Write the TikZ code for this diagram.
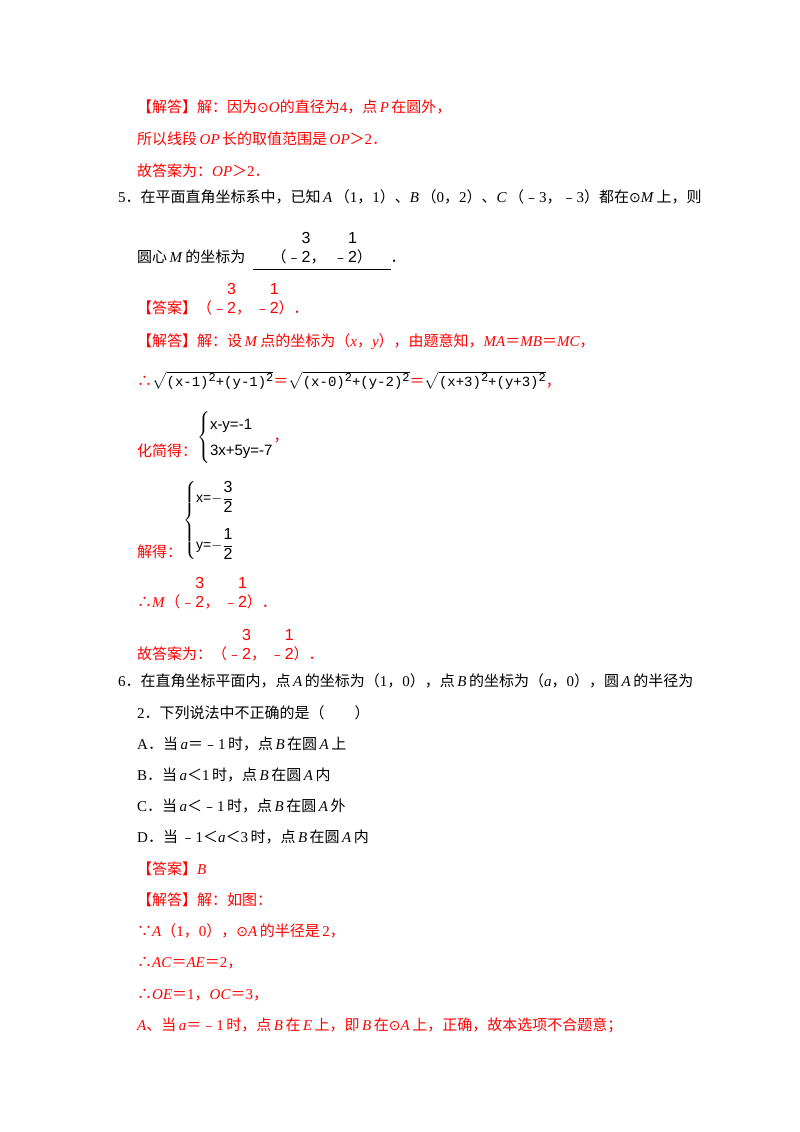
\documentclass[tikz,border=0pt]{standalone}
\usepackage{amsmath}
\usepackage{fontspec}
\setmainfont{Liberation Serif}
\newfontfamily\cjk{Noto Sans CJK SC}
\newfontfamily\djv{DejaVu Sans}
\newfontfamily\lsans{Liberation Sans}
\newfontfamily\lmono{Liberation Mono}
\definecolor{ans}{RGB}{255,0,0}
\newcommand{\zh}[1]{{\cjk #1}}
\newcommand{\mn}{{\cjk ﹣}}
\newcommand{\od}{{\djv\fontsize{14}{14}\selectfont ⊙}}
\newcommand{\fr}[2]{{\lsans\fontsize{16}{16}\selectfont\begin{tabular}[b]{@{}c@{}}#1\\[3pt]#2\end{tabular}}}
\newcommand{\sqtwo}{\raisebox{5pt}{\fontsize{12}{12}\selectfont 2}}
\newcommand{\sq}[1]{$\sqrt{\hbox{\lmono\fontsize{14}{14}\selectfont #1}}$}
\begin{document}
\begin{tikzpicture}[x=1pt,y=-1pt,
  t/.style={anchor=base west,inner sep=0pt,font=\fontsize{15}{15}\selectfont},
  r/.style={t,text=ans}]
\useasboundingbox (0,0) rectangle (800,1132);
\node[r] (l1) at (137,112) {\zh{【解答】解：因为}\od\textit{O}\zh{的直径为}4\zh{，点}\,\textit{P}\,\zh{在圆外，}};
\node[r] (l2) at (137,144) {\zh{所以线段}\,\textit{OP}\,\zh{长的取值范围是}\,\textit{OP}\zh{＞}2\zh{．}};
\node[r] (l3) at (137,176) {\zh{故答案为：}\textit{OP}\zh{＞}2\zh{．}};
\node[t] (q5) at (118,202) {5\zh{．在平面直角坐标系中，已知}\,\textit{A}\,\zh{（}1\zh{，}1\zh{）、}\textit{B}\,\zh{（}0\zh{，}2\zh{）、}\textit{C}\,\zh{（}\mn3\zh{，}\mn3\zh{）都在}\od\textit{M}\,\zh{上，则}};
\node[t] (q5b) at (137,262) {\zh{圆心}\,\textit{M}\,\zh{的坐标为}\ \ \underline{\ \ \ \ \ \zh{（}\mn\fr32\zh{，}\ \ \mn\fr12\zh{）}\ \ \ \ \ }\zh{．}};
\node[r] (a5) at (137,313) {\zh{【答案】（}\mn\fr32\zh{，}\ \mn\fr12\zh{）．}};
\node[r] (s5) at (137,346) {\zh{【解答】解：设}\,\textit{M}\,\zh{点的坐标为（}\textit{x}\zh{，}\textit{y}\zh{），由题意知，}\textit{MA}\zh{＝}\textit{MB}\zh{＝}\textit{MC}\zh{，}};
\node[r] (sq) at (137,386) {\zh{∴}\textcolor{black}{\sq{(x-1)\sqtwo+(y-1)\sqtwo}}\zh{＝}\textcolor{black}{\sq{(x-0)\sqtwo+(y-2)\sqtwo}}\zh{＝}\textcolor{black}{\sq{(x+3)\sqtwo+(y+3)\sqtwo}}\zh{，}};
\node[r] (h1) at (137,456) {\zh{化简得：}};
\node[t] (sys1) at (197,441) {$\left\{\vcenter{\hbox{\lsans\fontsize{15}{26}\selectfont\begin{tabular}{@{}l@{}}x-y=-1\\3x+5y=-7\end{tabular}}}\right.$\textcolor{ans}{\zh{，}}};
\node[r] (h2) at (137,557) {\zh{解得：}};
\node[t] (sys2) at (183,524) {$\left\{\vcenter{\hbox{\lsans\fontsize{14}{14}\selectfont\begin{tabular}{@{}l@{}}x=$-\dfrac{\hbox{\lsans\fontsize{16}{16}\selectfont 3}}{\hbox{\lsans\fontsize{16}{16}\selectfont 2}}$\\[22pt] y=$-\dfrac{\hbox{\lsans\fontsize{16}{16}\selectfont 1}}{\hbox{\lsans\fontsize{16}{16}\selectfont 2}}$\end{tabular}}}\right.$};
\node[r] (m5) at (137,607) {\zh{∴}\textit{M}\zh{（}\mn\fr32\zh{，}\ \mn\fr12\zh{）．}};
\node[r] (g5) at (137,659) {\zh{故答案为：（}\mn\fr32\zh{，}\ \mn\fr12\zh{）．}};
\node[t] (q6) at (118,686) {6\zh{．在直角坐标平面内，点}\,\textit{A}\,\zh{的坐标为（}1\zh{，}0\zh{），点}\,\textit{B}\,\zh{的坐标为（}\textit{a}\zh{，}0\zh{），圆}\,\textit{A}\,\zh{的半径为}};
\node[t] (q6b) at (137,718) {2\zh{．下列说法中不正确的是（　　）}};
\node[t] (oa) at (137,749) {A\zh{．当}\,\textit{a}\zh{＝}\mn1\,\zh{时，点}\,\textit{B}\,\zh{在圆}\,\textit{A}\,\zh{上}};
\node[t] (ob) at (137,780) {B\zh{．当}\,\textit{a}\zh{＜}1\,\zh{时，点}\,\textit{B}\,\zh{在圆}\,\textit{A}\,\zh{内}};
\node[t] (oc) at (137,811) {C\zh{．当}\,\textit{a}\zh{＜}\mn1\,\zh{时，点}\,\textit{B}\,\zh{在圆}\,\textit{A}\,\zh{外}};
\node[t] (od) at (137,842) {D\zh{．当}\,\mn1\zh{＜}\textit{a}\zh{＜}3\,\zh{时，点}\,\textit{B}\,\zh{在圆}\,\textit{A}\,\zh{内}};
\node[r] (a6) at (137,874) {\zh{【答案】}\textit{B}};
\node[r] (s6) at (137,905) {\zh{【解答】解：如图：}};
\node[r] (s61) at (137,936) {\zh{∵}\textit{A}\zh{（}1\zh{，}0\zh{），}\od\textit{A}\,\zh{的半径是}\,2\zh{，}};
\node[r] (s62) at (137,967) {\zh{∴}\textit{AC}\zh{＝}\textit{AE}\zh{＝}2\zh{，}};
\node[r] (s63) at (137,999) {\zh{∴}\textit{OE}\zh{＝}1\zh{，}\textit{OC}\zh{＝}3\zh{，}};
\node[r] (s64) at (137,1030) {\textit{A}\zh{、当}\,\textit{a}\zh{＝}\mn1\,\zh{时，点}\,\textit{B}\,\zh{在}\,\textit{E}\,\zh{上，即}\,\textit{B}\,\zh{在}\od\textit{A}\,\zh{上，正确，故本选项不合题意；}};
\end{tikzpicture}
\end{document}
